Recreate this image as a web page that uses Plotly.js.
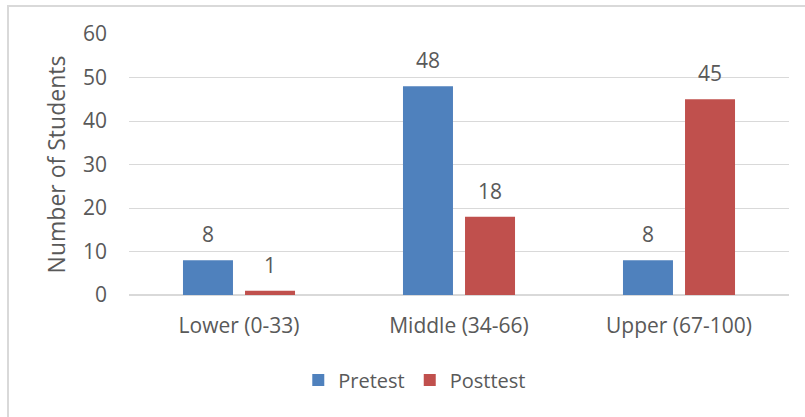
<!DOCTYPE html>
<html>
<head>
<meta charset="utf-8">
<script src="https://cdn.plot.ly/plotly-3.0.1.min.js"></script>
<style>
  html, body { margin: 0; padding: 0; background: #fff; }
  #wrap { position: relative; width: 805px; height: 417px; }
  #chart { width: 805px; height: 417px; }
  #frame { position: absolute; left: 7px; top: 5px; width: 820px; height: 430px;
           border: 2px solid #d9d9d9; box-sizing: border-box; pointer-events: none; }
</style>
</head>
<body>
<div id="wrap">
  <div id="chart"></div>
  <div id="frame"></div>
</div>
<script>
// Score bands and student counts per test
const categories = ['Lower (0-33)', 'Middle (34-66)', 'Upper (67-100)'];
const pretest = [8, 48, 8];
const posttest = [1, 18, 45];
const yTicks = [0, 10, 20, 30, 40, 50, 60];

const FONT = 'Open Sans, Noto Sans, sans-serif';
const TEXT = '#595959';
const BLUE = '#4f81bd';
const RED = '#c0504d';

const traces = [
  { type: 'bar', name: 'Pretest', x: categories, y: pretest,
    marker: { color: BLUE }, hoverinfo: 'x+y' },
  { type: 'bar', name: 'Posttest', x: categories, y: posttest,
    marker: { color: RED }, hoverinfo: 'x+y' }
];

// Value labels floated above each bar
const annotations = [];
[[pretest, 0], [posttest, 1]].forEach(([vals, idx]) => {
  vals.forEach((v, i) => {
    annotations.push({
      x: i, y: v, xref: 'x', yref: 'y',
      text: String(v), showarrow: false,
      xshift: idx === 0 ? -31 : 31, yshift: 10, yanchor: 'bottom',
      font: { family: FONT, size: 21, color: TEXT }
    });
  });
});

const layout = {
  width: 805, height: 417,
  margin: { l: 129, r: 16, t: 34, b: 122 },
  paper_bgcolor: '#fff', plot_bgcolor: '#fff',
  barmode: 'group', bargap: 0.436, bargroupgap: 0.194,
  showlegend: true,
  legend: { orientation: 'h', x: 0.433, xanchor: 'center', y: -0.326, yanchor: 'middle',
            font: { family: FONT, size: 20, color: TEXT }, itemwidth: 30 },
  xaxis: { type: 'category', showgrid: false, showline: false, zeroline: false,
           ticks: '', ticklabelstandoff: 16,
           tickfont: { family: FONT, size: 21, color: TEXT } },
  yaxis: { range: [0, 60], tickvals: yTicks, ticktext: yTicks.map(String),
           showgrid: true, gridcolor: '#d9d9d9', gridwidth: 1,
           zeroline: true, zerolinecolor: '#d9d9d9', zerolinewidth: 1.5,
           showline: false, ticks: '', ticklabelstandoff: 21,
           tickfont: { family: FONT, size: 21, color: TEXT },
           title: { text: 'Number of Students', standoff: 10,
                    font: { family: FONT, size: 23, color: TEXT } } },
  annotations: annotations
};

Plotly.newPlot('chart', traces, layout, { displayModeBar: false, staticPlot: true });
</script>
</body>
</html>
